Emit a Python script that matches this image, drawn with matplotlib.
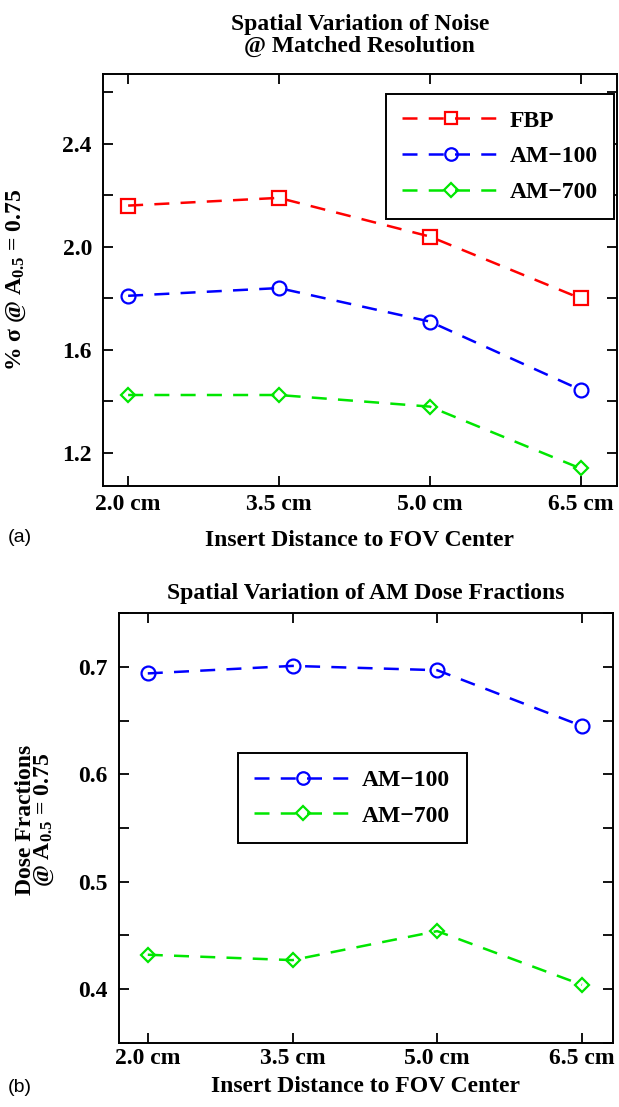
import matplotlib.pyplot as plt
from matplotlib.ticker import MultipleLocator

plt.rcParams['font.family'] = ['Liberation Serif', 'DejaVu Serif']
plt.rcParams['font.weight'] = 'bold'
plt.rcParams['axes.labelweight'] = 'bold'
plt.rcParams['axes.titleweight'] = 'bold'
plt.rcParams['mathtext.fontset'] = 'custom'
plt.rcParams['mathtext.rm'] = 'Liberation Serif:bold'
plt.rcParams['mathtext.bf'] = 'Liberation Serif:bold'
plt.rcParams['mathtext.it'] = 'Liberation Serif:bold:italic'
plt.rcParams['mathtext.default'] = 'bf'

# data
distances = [2.0, 3.5, 5.0, 6.5]
dist_labels = ['2.0 cm', '3.5 cm', '5.0 cm', '6.5 cm']

noise_fbp = [2.16, 2.19, 2.04, 1.80]
noise_am100 = [1.81, 1.84, 1.71, 1.445]
noise_am700 = [1.425, 1.425, 1.38, 1.14]

frac_am100 = [0.694, 0.701, 0.697, 0.645]
frac_am700 = [0.432, 0.427, 0.454, 0.404]

RED = '#ff0000'
BLUE = '#0000ff'
GREEN = '#00e600'
FS = 17


def style_axes(ax):
    for s in ax.spines.values():
        s.set_linewidth(1.4)
    ax.tick_params(which='both', direction='in', top=True, right=True,
                   width=1.3, labelsize=FS)
    ax.tick_params(which='major', length=7)
    ax.tick_params(which='minor', length=7)
    ax.tick_params(axis='y', pad=8)
    ax.tick_params(axis='x', pad=6)
    ax.set_xticks(distances)
    ax.set_xticklabels(dist_labels)


def series(ax, y, color, marker, ms, label):
    ax.plot(distances, y, color=color, ls='--', dashes=(6, 4.5), lw=1.8,
            marker=marker, ms=ms, mfc='none', mec=color, mew=1.6, label=label)


def add_legend(ax, anchor):
    leg = ax.legend(loc='upper left', bbox_to_anchor=anchor,
                    borderaxespad=0, fancybox=False, framealpha=1,
                    edgecolor='black', fontsize=FS, handlelength=4.1,
                    handletextpad=0.45, labelspacing=0.6, borderpad=0.7,
                    markerscale=0.9)
    leg.get_frame().set_linewidth(1.4)
    return leg


fig = plt.figure(figsize=(6.19, 11.07), dpi=100)

# ---- (a) noise
ax1 = fig.add_axes([0.1664, 0.561, 0.830, 0.372])
series(ax1, noise_fbp, RED, 's', 10, 'FBP')
series(ax1, noise_am100, BLUE, 'o', 10, 'AM\u2212100')
series(ax1, noise_am700, GREEN, 'D', 7.5, 'AM\u2212700')
ax1.set_xlim(1.75, 6.86)
ax1.yaxis.set_major_locator(MultipleLocator(0.4))
ax1.yaxis.set_minor_locator(MultipleLocator(0.2))
style_axes(ax1)
ax1.set_ylim(1.072, 2.67)
ax1.set_yticks([1.2, 1.6, 2.0, 2.4])
ax1.set_yticklabels(['1.2', '1.6', '2.0', '2.4'])
ax1.set_title('Spatial Variation of Noise\n@ Matched Resolution',
              fontsize=FS, pad=16, linespacing=1.05)
ax1.set_xlabel('Insert Distance to FOV Center', fontsize=FS)
ax1.xaxis.set_label_coords(0.5, -0.108)
ax1.set_ylabel('% \u03c3 @ A$_{0.5}$ = 0.75', fontsize=FS)
ax1.yaxis.set_label_coords(-0.146, 0.5)
add_legend(ax1, (0.55, 0.953))

# ---- (b) dose fractions
ax2 = fig.add_axes([0.192, 0.058, 0.798, 0.388])
series(ax2, frac_am100, BLUE, 'o', 10, 'AM\u2212100')
series(ax2, frac_am700, GREEN, 'D', 7.5, 'AM\u2212700')
ax2.set_xlim(1.7, 6.82)
ax2.yaxis.set_major_locator(MultipleLocator(0.1))
ax2.yaxis.set_minor_locator(MultipleLocator(0.05))
style_axes(ax2)
ax2.tick_params(axis='x', pad=4)
ax2.set_ylim(0.35, 0.75)
ax2.set_yticks([0.4, 0.5, 0.6, 0.7])
ax2.set_yticklabels(['0.4', '0.5', '0.6', '0.7'])
ax2.set_title('Spatial Variation of AM Dose Fractions', fontsize=FS, pad=10)
ax2.set_xlabel('Insert Distance to FOV Center', fontsize=FS)
ax2.xaxis.set_label_coords(0.5, -0.077)
ax2.set_ylabel('Dose Fractions\n@ A$_{0.5}$ = 0.75', fontsize=FS,
               linespacing=0.8)
ax2.yaxis.set_label_coords(-0.128, 0.52)
add_legend(ax2, (0.241, 0.675))

fig.text(0.013, 1 - 537 / 1107, '(a)', family='Liberation Sans',
         fontweight='normal', fontsize=14, va='center')
fig.text(0.013, 1 - 1088 / 1107, '(b)', family='Liberation Sans',
         fontweight='normal', fontsize=14, va='center')

fig.savefig('out.png', dpi=100)
